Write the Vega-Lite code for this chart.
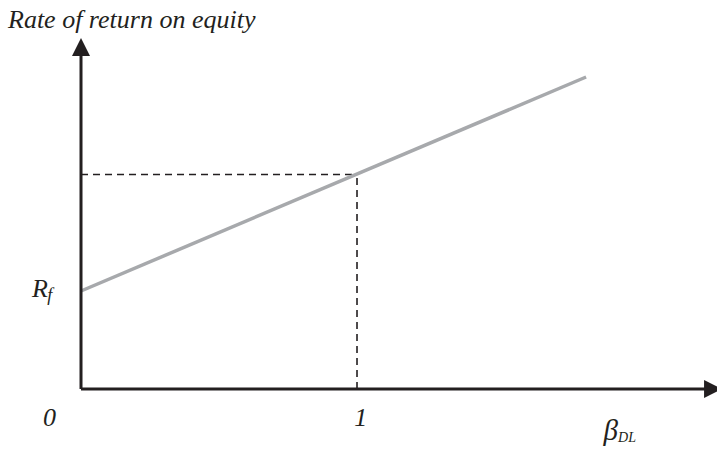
{
  "$schema": "https://vega.github.io/schema/vega-lite/v6.json",
  "width": 717,
  "height": 450,
  "padding": 0,
  "autosize": {"type": "none"},
  "background": "white",
  "config": {"view": {"stroke": null}},
  "datasets": {
    "axes": [
      {"x": 0, "y": 0, "x2": 0, "y2": 3.34},
      {"x": 0, "y": 0, "x2": 2.29, "y2": 0}
    ],
    "sml": [
      {"beta": 0, "ret": 0.98},
      {"beta": 1.83, "ret": 3.12}
    ],
    "guides": [
      {"x": 0, "y": 2.145, "x2": 1, "y2": 2.145},
      {"x": 1, "y": 0, "x2": 1, "y2": 2.145}
    ],
    "uparrow": [{"x": 0, "y": 3.42}],
    "rightarrow": [{"x": 2.29, "y": 0}],
    "bigtext": [
      {"label": "Rate of return on equity", "x": -0.2645, "y": 3.607},
      {"label": "R", "x": -0.1775, "y": 0.923},
      {"label": "0", "x": -0.1377, "y": -0.37},
      {"label": "1", "x": 0.99, "y": -0.37}
    ],
    "betatext": [
      {"label": "β", "x": 1.893, "y": -0.51}
    ],
    "subtext": [
      {"label": "f", "x": -0.122, "y": 0.876}
    ],
    "dltext": [
      {"label": "DL", "x": 1.946, "y": -0.527}
    ]
  },
  "layer": [
    {
      "data": {"name": "guides"},
      "mark": {"type": "rule", "stroke": "#231f20", "strokeWidth": 1.6, "strokeDash": [7, 5]},
      "encoding": {
        "x": {"field": "x", "type": "quantitative", "scale": {"domain": [-0.2935, 2.3043], "nice": false, "zero": false}, "axis": null},
        "y": {"field": "y", "type": "quantitative", "scale": {"domain": [-0.61, 3.89], "nice": false, "zero": false}, "axis": null},
        "x2": {"field": "x2"},
        "y2": {"field": "y2"}
      }
    },
    {
      "data": {"name": "sml"},
      "mark": {"type": "line", "stroke": "#a7a9ac", "strokeWidth": 3.5},
      "encoding": {
        "x": {"field": "beta", "type": "quantitative"},
        "y": {"field": "ret", "type": "quantitative"}
      }
    },
    {
      "data": {"name": "axes"},
      "mark": {"type": "rule", "stroke": "#231f20", "strokeWidth": 3},
      "encoding": {
        "x": {"field": "x", "type": "quantitative"},
        "y": {"field": "y", "type": "quantitative"},
        "x2": {"field": "x2"},
        "y2": {"field": "y2"}
      }
    },
    {
      "data": {"name": "uparrow"},
      "mark": {"type": "point", "shape": "M-1,1L0,-1L1,1Z", "size": 324, "filled": true, "fill": "#231f20", "opacity": 1, "strokeWidth": 0},
      "encoding": {
        "x": {"field": "x", "type": "quantitative"},
        "y": {"field": "y", "type": "quantitative"}
      }
    },
    {
      "data": {"name": "rightarrow"},
      "mark": {"type": "point", "shape": "M-1,-1L1,0L-1,1Z", "size": 324, "filled": true, "fill": "#231f20", "opacity": 1, "strokeWidth": 0},
      "encoding": {
        "x": {"field": "x", "type": "quantitative"},
        "y": {"field": "y", "type": "quantitative"}
      }
    },
    {
      "data": {"name": "bigtext"},
      "mark": {"type": "text", "font": "Liberation Serif", "fontStyle": "italic", "fontSize": 26, "align": "left", "baseline": "alphabetic", "color": "#231f20"},
      "encoding": {
        "x": {"field": "x", "type": "quantitative"},
        "y": {"field": "y", "type": "quantitative"},
        "text": {"field": "label"}
      }
    },
    {
      "data": {"name": "betatext"},
      "mark": {"type": "text", "font": "Liberation Serif", "fontStyle": "italic", "fontSize": 29, "align": "left", "baseline": "alphabetic", "color": "#231f20"},
      "encoding": {
        "x": {"field": "x", "type": "quantitative"},
        "y": {"field": "y", "type": "quantitative"},
        "text": {"field": "label"}
      }
    },
    {
      "data": {"name": "subtext"},
      "mark": {"type": "text", "font": "Liberation Serif", "fontStyle": "italic", "fontSize": 18, "align": "left", "baseline": "alphabetic", "color": "#231f20"},
      "encoding": {
        "x": {"field": "x", "type": "quantitative"},
        "y": {"field": "y", "type": "quantitative"},
        "text": {"field": "label"}
      }
    },
    {
      "data": {"name": "dltext"},
      "mark": {"type": "text", "font": "Liberation Serif", "fontStyle": "italic", "fontSize": 14, "align": "left", "baseline": "alphabetic", "color": "#231f20"},
      "encoding": {
        "x": {"field": "x", "type": "quantitative"},
        "y": {"field": "y", "type": "quantitative"},
        "text": {"field": "label"}
      }
    }
  ]
}
